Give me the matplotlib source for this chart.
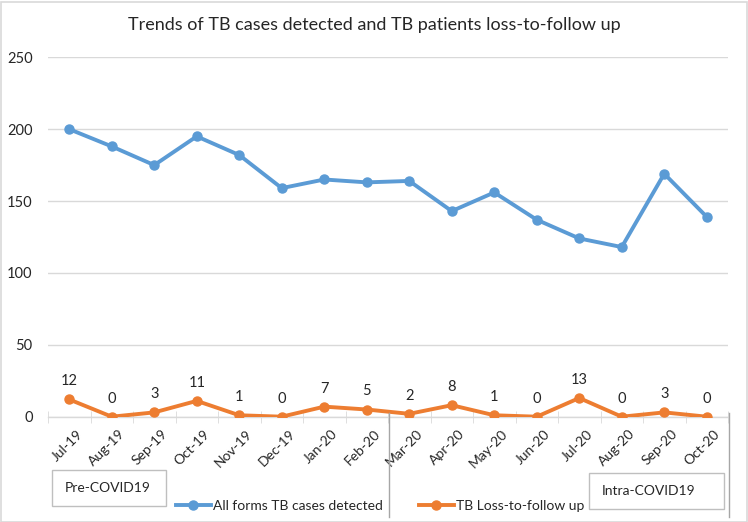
import matplotlib
matplotlib.use("Agg")
import matplotlib.pyplot as plt
import matplotlib.transforms as mtransforms
from matplotlib.patches import Rectangle
import numpy as np

plt.rcParams["font.family"] = ["Lato", "DejaVu Sans"]

months = ["Jul-19", "Aug-19", "Sep-19", "Oct-19", "Nov-19", "Dec-19", "Jan-20", "Feb-20",
          "Mar-20", "Apr-20", "May-20", "Jun-20", "Jul-20", "Aug-20", "Sep-20", "Oct-20"]
detected = [200, 188, 175, 195, 182, 159, 165, 163, 164, 143, 156, 137, 124, 118, 169, 139]
ltfu = [12, 0, 3, 11, 1, 0, 7, 5, 2, 8, 1, 0, 13, 0, 3, 0]
yticks = [0, 50, 100, 150, 200, 250]

BLUE = "#5B9BD5"
ORANGE = "#ED7D31"
TXT = "#262626"
FS = 10
W, H = 748, 522

fig = plt.figure(figsize=(W / 100, H / 100), dpi=100)
ax = fig.add_axes([48 / W, 1 - 416.7 / H, 680 / W, (416.7 - 57.3) / H])

x = np.arange(len(months))
ax.plot(x, detected, color=BLUE, lw=2.8, marker="o", ms=6.5,
        label="All forms TB cases detected", zorder=3, solid_joinstyle="round")
ax.plot(x, ltfu, color=ORANGE, lw=2.8, marker="o", ms=6.5,
        label="TB Loss-to-follow up", zorder=3, solid_joinstyle="round")

for xi, v in zip(x, ltfu):
    ax.annotate(str(v), xy=(xi, v), xytext=(0, 8), textcoords="offset points",
                ha="center", va="bottom", fontsize=FS + 0.5, color=TXT)

ax.set_xlim(-0.5, len(months) - 0.5)
ax.set_ylim(0, 250)
ax.set_yticks(yticks)
ax.grid(True, axis="y", color="#d9d9d9", lw=1)
ax.set_axisbelow(True)
for s in ["top", "right", "left"]:
    ax.spines[s].set_visible(False)
ax.spines["bottom"].set_color("#d9d9d9")
ax.spines["bottom"].set_linewidth(1)

ax.set_xticks(x)
ax.set_xticklabels(months, rotation=45, ha="right", rotation_mode="anchor")
ax.set_xticks(np.arange(-0.5, len(months)), minor=True)
ax.tick_params(axis="x", which="major", length=0, labelsize=FS, labelcolor=TXT, pad=8)
ax.tick_params(axis="x", which="minor", length=8, direction="inout", color="#d9d9d9")
ax.tick_params(axis="y", length=0, labelsize=FS + 0.5, labelcolor=TXT, pad=11)
offset = mtransforms.ScaledTranslation(5 / 72, 0, fig.dpi_scale_trans)
for lab in ax.get_xticklabels():
    lab.set_transform(lab.get_transform() + offset)

fig.suptitle("Trends of TB cases detected and TB patients loss-to-follow up",
             x=374 / W, y=1 - 25 / H, va="center", fontsize=13, color=TXT)

# separator lines for the two periods
for px in [388.5, 729]:
    fig.add_artist(plt.Line2D([px / W, px / W], [1 - 413 / H, 1 - 517 / H],
                              transform=fig.transFigure, color="#a6a6a6", lw=1))

# period boxes
boxes = [("Pre-COVID19", 52, 470, 166, 506), ("Intra-COVID19", 589, 473, 724, 509)]
for txt, x0, y0, x1, y1 in boxes:
    fig.add_artist(Rectangle((x0 / W, 1 - y1 / H), (x1 - x0) / W, (y1 - y0) / H,
                             transform=fig.transFigure, fill=False,
                             edgecolor="#bfbfbf", lw=1))
    fig.text((x0 + 13) / W, 1 - (y0 + y1) / 2 / H, txt, ha="left", va="center",
             fontsize=FS, color=TXT)

fig.legend(loc="center", bbox_to_anchor=(380 / W, 1 - 506 / H), ncol=2, frameon=False,
           fontsize=FS, handlelength=2.5, handletextpad=0.15, columnspacing=2.6,
           labelcolor=TXT)

# chart border
fig.add_artist(Rectangle((0.5 / W, 0.5 / H), (W - 2) / W, (H - 2) / H,
                         transform=fig.transFigure, fill=False, edgecolor="#d9d9d9", lw=1.2))

fig.savefig("out.png", dpi=100)
